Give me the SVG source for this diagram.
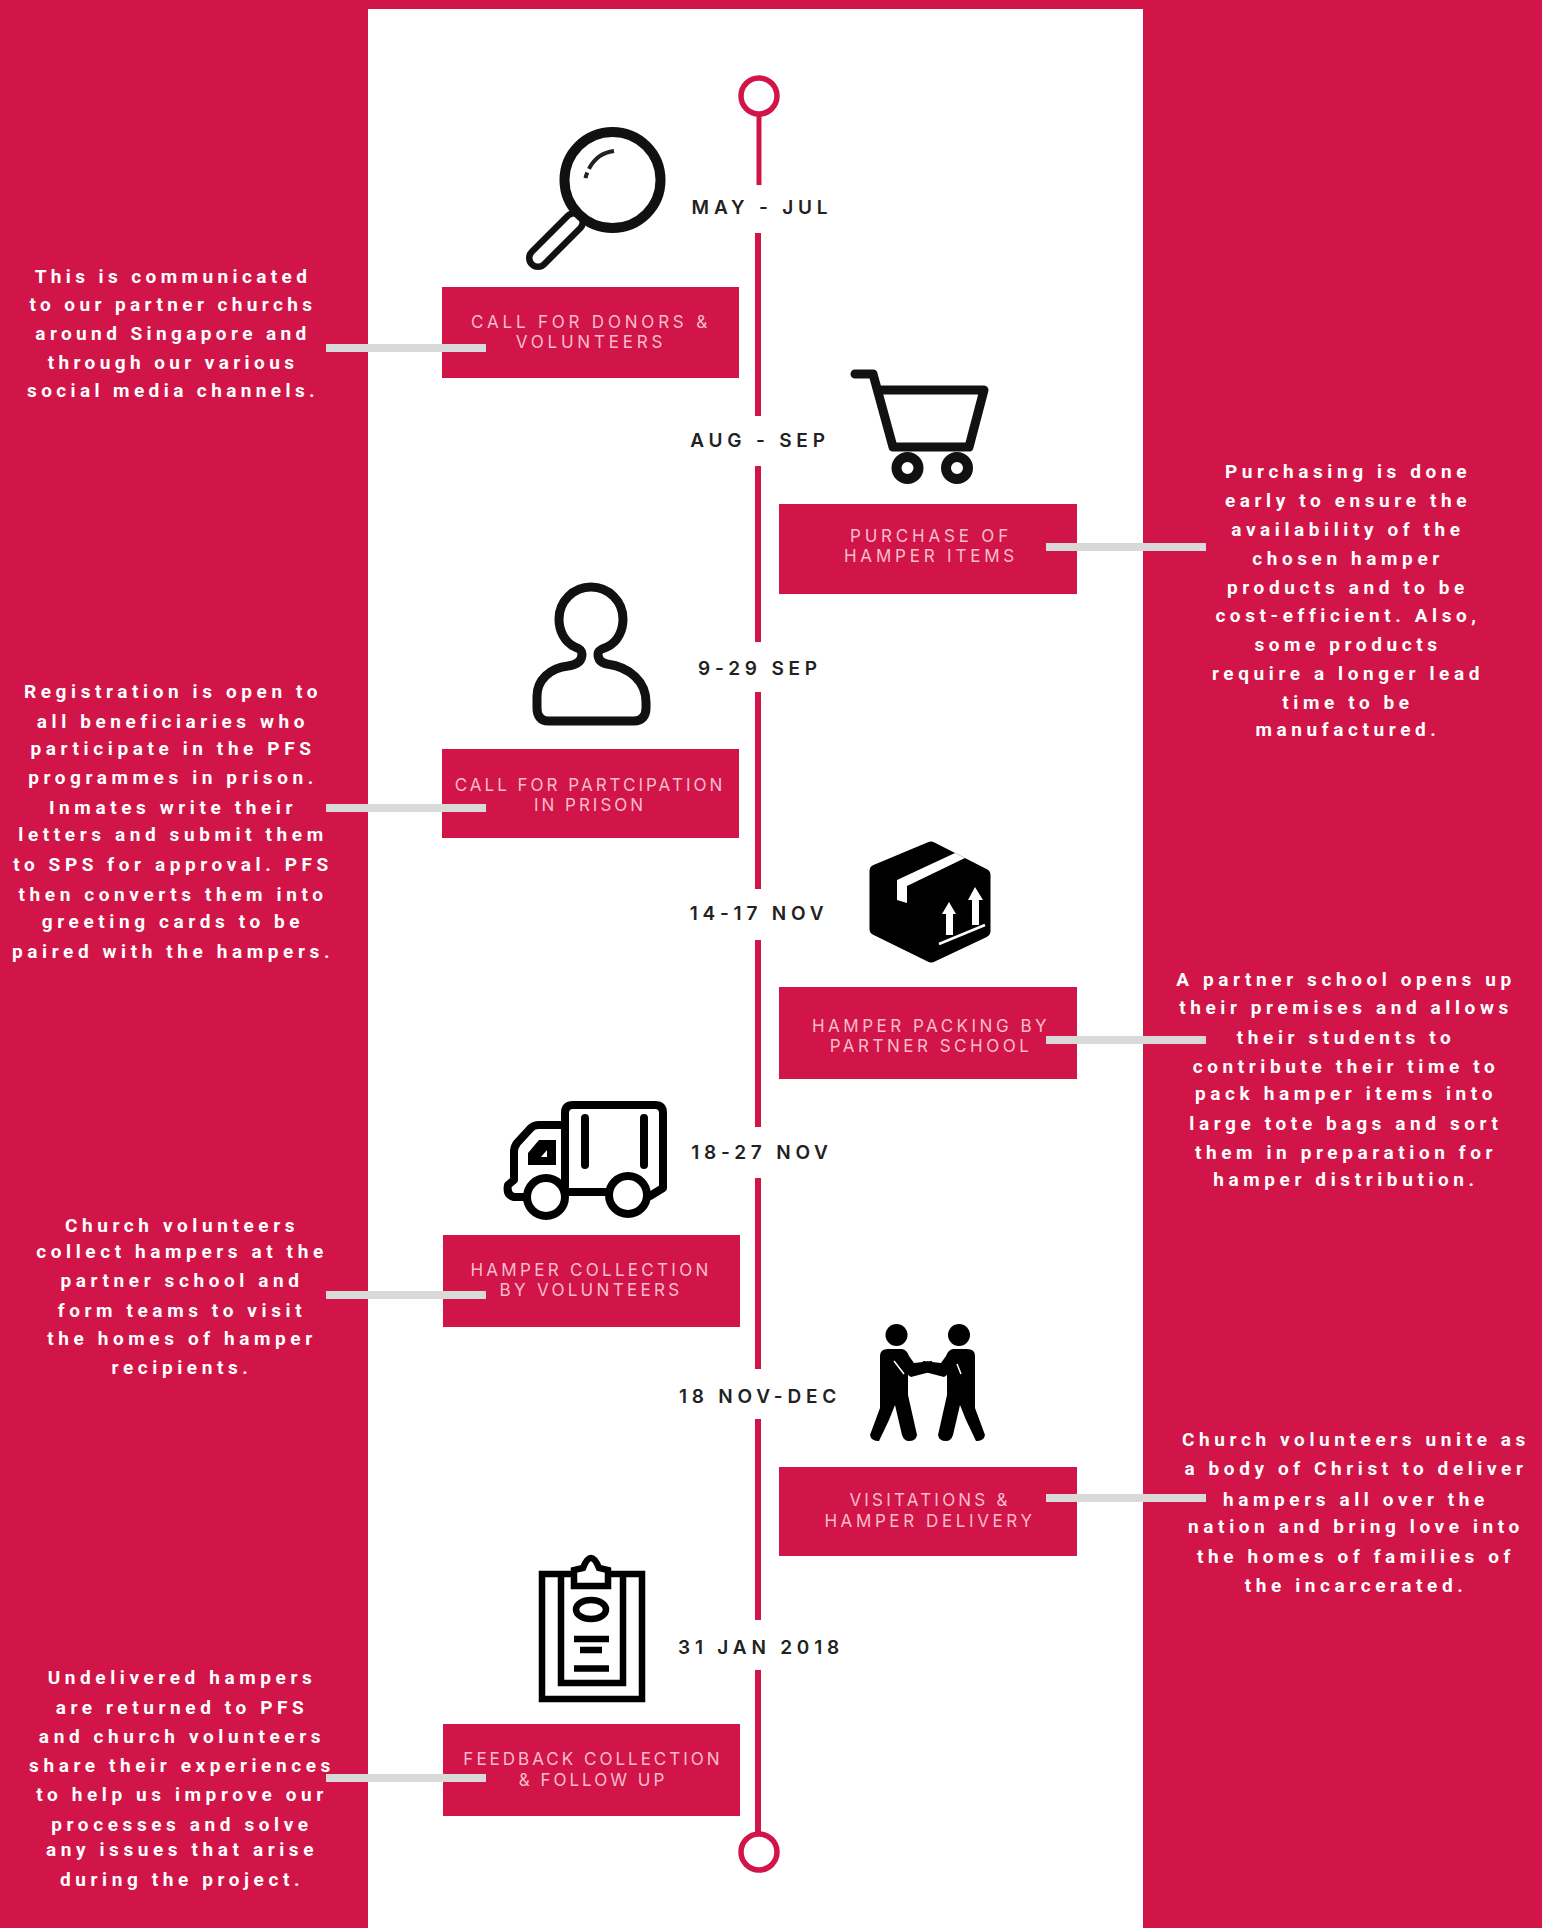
<svg xmlns="http://www.w3.org/2000/svg" width="1542" height="1928" viewBox="0 0 1542 1928">
<style>
.body{font-family:"Roboto","Liberation Sans",sans-serif;font-weight:700;font-size:19px;letter-spacing:4.6px;fill:#fff;text-anchor:middle;dominant-baseline:central}
.lab{font-family:"Inter","Liberation Sans",sans-serif;font-weight:400;font-size:17px;letter-spacing:3.8px;fill:#f9bccd;text-anchor:middle;dominant-baseline:central}
.tight{letter-spacing:3px}
.date{font-family:"Inter","Liberation Sans",sans-serif;font-weight:600;font-size:19px;letter-spacing:4.8px;fill:#222;text-anchor:middle;dominant-baseline:central}
.box{fill:#d11548}
.ln{stroke:#d11548;stroke-width:6;fill:none}
.end{fill:#fff;stroke:#d11548;stroke-width:5.5}
.conn{stroke:#d9d9d9;stroke-width:8;fill:none}
.ic{fill:none;stroke:#111;stroke-width:9;stroke-linejoin:round;stroke-linecap:round}
.icb{fill:none;stroke:#000;stroke-width:6.500;stroke-linejoin:miter}
</style>
<rect width="1542" height="1928" fill="#d11548"/>
<rect x="368" y="9" width="775" height="1919" fill="#fff"/>

<g id="timeline">
<circle class="end" cx="759" cy="96" r="18"/>
<path class="ln" style="stroke-width:5" d="M759 115V185"/>
<path class="ln" d="M758 233V416M758 466V642M758 692V889M758 940V1127M758 1178V1369M758 1419V1620M758 1670V1833"/>
<circle class="end" cx="759" cy="1852" r="18"/>
</g>

<g id="box-nodes">
<g id="n1"><rect class="box" x="442" y="287" width="297" height="91"/><text class="lab" x="591" y="322">CALL FOR DONORS &amp;</text><text class="lab" x="591" y="342">VOLUNTEERS</text></g>
<g id="n2"><rect class="box" x="779" y="504" width="298" height="90"/><text class="lab" x="931" y="536">PURCHASE OF</text><text class="lab" x="931" y="556">HAMPER ITEMS</text></g>
<g id="n3"><rect class="box" x="442" y="749" width="297" height="89"/><text class="lab tight" x="590" y="785">CALL FOR PARTCIPATION</text><text class="lab tight" x="590" y="805">IN PRISON</text></g>
<g id="n4"><rect class="box" x="779" y="987" width="298" height="92"/><text class="lab" x="931" y="1026" style="letter-spacing:3.5px">HAMPER PACKING BY</text><text class="lab" x="931" y="1046" style="letter-spacing:3.5px">PARTNER SCHOOL</text></g>
<g id="n5"><rect class="box" x="443" y="1235" width="297" height="92"/><text class="lab" x="591" y="1270" style="letter-spacing:3.3px">HAMPER COLLECTION</text><text class="lab" x="591" y="1290" style="letter-spacing:3.3px">BY VOLUNTEERS</text></g>
<g id="n6"><rect class="box" x="779" y="1467" width="298" height="89"/><text class="lab" x="930" y="1500" style="letter-spacing:3.2px">VISITATIONS &amp;</text><text class="lab" x="930" y="1521" style="letter-spacing:3.6px">HAMPER DELIVERY</text></g>
<g id="n7"><rect class="box" x="443" y="1724" width="297" height="92"/><text class="lab tight" x="593" y="1759">FEEDBACK COLLECTION</text><text class="lab tight" x="593" y="1780">&amp; FOLLOW UP</text></g>
</g>

<g id="connectors">
<path class="conn" d="M326 348H486M1046 547H1206M326 808H486M1046 1040H1206M326 1295H486M1046 1498H1206M326 1778H486"/>
</g>

<g id="dates">
<text class="date" x="762" y="207">MAY - JUL</text>
<text class="date" x="760" y="440">AUG - SEP</text>
<text class="date" x="760" y="668">9-29 SEP</text>
<text class="date" x="759" y="913">14-17 NOV</text>
<text class="date" x="762" y="1152">18-27 NOV</text>
<text class="date" x="760" y="1396">18 NOV-DEC</text>
<text class="date" x="761" y="1647">31 JAN 2018</text>
</g>

<g id="icon-magnifier">
<line x1="574" y1="222" x2="538" y2="258" stroke="#111" stroke-width="24" stroke-linecap="round"/>
<line x1="574" y1="222" x2="538" y2="258" stroke="#fff" stroke-width="11" stroke-linecap="round"/>
<circle cx="612.5" cy="180" r="48" fill="#fff" stroke="#111" stroke-width="10"/>
<path d="M614 151C596 153 584 170 584.500 188" fill="none" stroke="#222" stroke-width="4" stroke-dasharray="32 4 6"/>
</g>
<g id="icon-cart">
<path class="ic" d="M855 374H873L893 447H969L984 390H878"/>
<circle class="ic" style="stroke-width:10" cx="907.500" cy="468" r="11"/>
<circle class="ic" style="stroke-width:10" cx="957" cy="468" r="11"/>
</g>
<g id="icon-person">
<path class="ic" d="M582 654C582 650 578 648 575 647C564 642 559 630 559 619A32 32 0 1 1 623 619C623 630 618 642 607 647C604 648 598 650 598 654C598 660 602 663 607 664C630 667 646 682 646 702V708C646 716 642 721 634 721H548C541 721 537 716 537 708V696C537 680 550 668 568 666C576 665 582 662 582 654Z"/>
</g>
<g id="icon-box">
<path d="M931 848L984 875V931L931 956L876 929V871Z" fill="#000" stroke="#000" stroke-width="13" stroke-linejoin="round"/>
<path d="M955 853L897 880V900L907 903V886L965 858Z" fill="#fff"/>
<path d="M949 902L956 914H953V935H946V914H942ZM975 887L983 900H979V925H972V900H968Z" fill="#fff"/>
<path d="M939 944L985 925" stroke="#fff" stroke-width="2.500"/>
</g>
<g id="icon-truck">
<path class="ic" style="stroke:#000;stroke-width:8" fill="none" d="M565 1125V1113Q565 1105 573 1105H655Q663 1105 663 1113V1188L650 1196M565 1125H538Q533 1125 529 1130L517 1143Q514 1147 514 1152V1180L508 1185Q506 1195 514 1197H528M565 1125V1192H610"/>
<path d="M585 1118V1165M644 1118V1165" stroke="#000" stroke-width="8" stroke-linecap="round"/>
<path d="M528 1165V1153L539 1140H556V1165Z" fill="#000"/>
<path d="M541 1157L547 1150V1157Z" fill="#fff"/>
<circle cx="546" cy="1197" r="19" fill="#fff" stroke="#000" stroke-width="8"/>
<circle cx="628" cy="1195" r="19" fill="#fff" stroke="#000" stroke-width="8"/>
</g>
<g id="icon-people">
<circle cx="896.500" cy="1335" r="11"/>
<circle cx="959" cy="1335" r="11"/>
<path d="M880 1356Q880 1349 888 1349H902Q907 1350 909 1356L914 1363L932 1361L934 1371L911 1377L908 1375V1395L917 1435Q916 1441 909 1441Q904 1441 902 1435L895 1405L889 1420L879 1441Q871 1441 870 1435L880 1408Z"/>
<path d="M880 1356Q880 1349 888 1349H902Q907 1350 909 1356L914 1363L932 1361L934 1371L911 1377L908 1375V1395L917 1435Q916 1441 909 1441Q904 1441 902 1435L895 1405L889 1420L879 1441Q871 1441 870 1435L880 1408Z" transform="translate(1855 0) scale(-1 1)"/>
<path d="M894 1361L904 1374M961 1374L957 1364" stroke="#fff" stroke-width="1.500"/>
</g>
<g id="icon-clipboard">
<path class="icb" d="M571 1574H542V1699H642V1574H611"/>
<path class="icb" d="M561 1574V1683H623V1574"/>
<path class="icb" fill="#fff" d="M574 1586V1570L583 1568Q587 1558 591 1558Q595 1558 599 1568L608 1570V1586Z"/>
<ellipse class="icb" cx="591" cy="1609.500" rx="15" ry="9.500"/>
<path class="icb" d="M574 1639H609M580 1650H602M574 1668.500H609"/>
</g>

<g id="notes">
<g id="note1" style="letter-spacing:4.4px">
<text class="body" style="letter-spacing:inherit" x="173" y="276">This is communicated</text>
<text class="body" style="letter-spacing:inherit" x="173" y="304">to our partner churchs</text>
<text class="body" style="letter-spacing:inherit" x="173" y="333">around Singapore and</text>
<text class="body" style="letter-spacing:inherit" x="173" y="362">through our various</text>
<text class="body" style="letter-spacing:inherit" x="173" y="390">social media channels.</text>
</g>
<g id="note2">
<text class="body" x="1348" y="471">Purchasing is done</text>
<text class="body" x="1348" y="500">early to ensure the</text>
<text class="body" x="1348" y="529">availability of the</text>
<text class="body" x="1348" y="558">chosen hamper</text>
<text class="body" x="1348" y="587">products and to be</text>
<text class="body" x="1348" y="615">cost-efficient. Also,</text>
<text class="body" x="1348" y="644">some products</text>
<text class="body" x="1348" y="673">require a longer lead</text>
<text class="body" x="1348" y="702">time to be</text>
<text class="body" x="1348" y="729">manufactured.</text>
</g>
<g id="note3">
<text class="body" x="173" y="691">Registration is open to</text>
<text class="body" x="173" y="721">all beneficiaries who</text>
<text class="body" x="173" y="748">participate in the PFS</text>
<text class="body" x="173" y="777">programmes in prison.</text>
<text class="body" x="173" y="807">Inmates write their</text>
<text class="body" x="173" y="834">letters and submit them</text>
<text class="body" x="173" y="864">to SPS for approval. PFS</text>
<text class="body" x="173" y="894">then converts them into</text>
<text class="body" x="173" y="921">greeting cards to be</text>
<text class="body" x="173" y="951">paired with the hampers.</text>
</g>
<g id="note4">
<text class="body" x="1346" y="979">A partner school opens up</text>
<text class="body" x="1346" y="1007">their premises and allows</text>
<text class="body" x="1346" y="1037">their students to</text>
<text class="body" x="1346" y="1066">contribute their time to</text>
<text class="body" x="1346" y="1093">pack hamper items into</text>
<text class="body" x="1346" y="1123">large tote bags and sort</text>
<text class="body" x="1346" y="1152">them in preparation for</text>
<text class="body" x="1346" y="1179">hamper distribution.</text>
</g>
<g id="note5">
<text class="body" x="182" y="1225">Church volunteers</text>
<text class="body" x="182" y="1251">collect hampers at the</text>
<text class="body" x="182" y="1280">partner school and</text>
<text class="body" x="182" y="1310">form teams to visit</text>
<text class="body" x="182" y="1338">the homes of hamper</text>
<text class="body" x="182" y="1367">recipients.</text>
</g>
<g id="note6">
<text class="body" x="1356" y="1439">Church volunteers unite as</text>
<text class="body" x="1356" y="1468">a body of Christ to deliver</text>
<text class="body" x="1356" y="1499">hampers all over the</text>
<text class="body" x="1356" y="1526">nation and bring love into</text>
<text class="body" x="1356" y="1556">the homes of families of</text>
<text class="body" x="1356" y="1585">the incarcerated.</text>
</g>
<g id="note7">
<text class="body" x="182" y="1677">Undelivered hampers</text>
<text class="body" x="182" y="1707">are returned to PFS</text>
<text class="body" x="182" y="1736">and church volunteers</text>
<text class="body" x="182" y="1765">share their experiences</text>
<text class="body" x="182" y="1794">to help us improve our</text>
<text class="body" x="182" y="1824">processes and solve</text>
<text class="body" x="182" y="1849">any issues that arise</text>
<text class="body" x="182" y="1879">during the project.</text>
</g>
</g>
</svg>
